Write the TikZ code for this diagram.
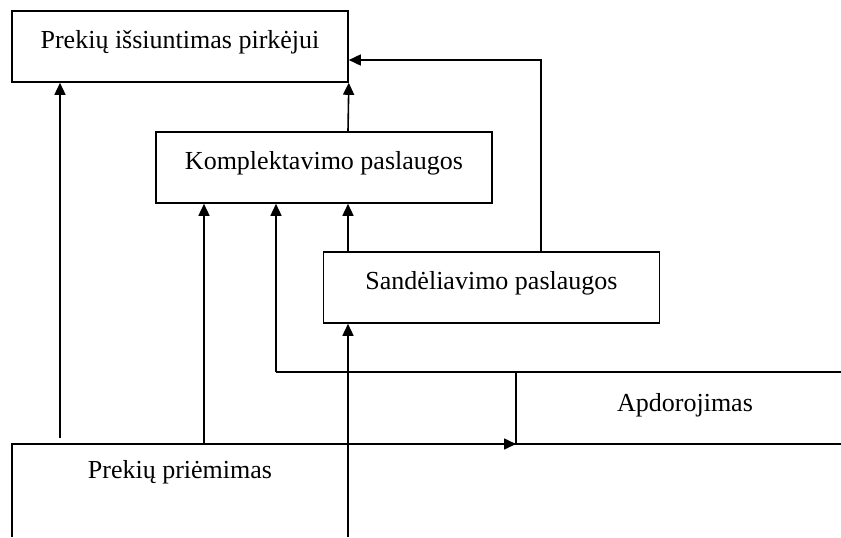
\documentclass[tikz,border=0pt]{standalone}
\usepackage{fontspec}
\setmainfont{Liberation Serif}
\usetikzlibrary{arrows.meta}
\begin{document}
\begin{tikzpicture}[x=0.5pt, y=-0.5pt, line width=0.8pt, >={Triangle[length=6pt,width=5.5pt]}]

\tikzstyle{every node} = [font=\fontsize{13}{15}\selectfont]
\tikzstyle{box} = [draw, rectangle, inner sep=0pt, minimum width=168pt, minimum height=35.5pt, text height=9pt, text depth=7pt]

\useasboundingbox (0,0) rectangle (841,537);

\node[box] (ship) at (180,46.5) {Prekių išsiuntimas pirkėjui};
\node[box] (kompl) at (324,167.5) {Komplektavimo paslaugos};
\node[box] (sand) at (491.5,287.5) {Sandėliavimo paslaugos};

\node (proc) at (685,405) {Apdorojimas};
\node (recv) at (180,472) {Prekių priėmimas};

\coordinate (r1) at (12,537);
\coordinate (r2) at (12,444);
\coordinate (r3) at (841,444);

\coordinate (p1) at (841,372);
\coordinate (p2) at (276,372);
\coordinate (p3) at (516,372);
\coordinate (p4) at (516,444);

\coordinate (a1) at (60,438);
\coordinate (a2) at (204,444);
\coordinate (a3) at (348,537);
\coordinate (a6) at (541,60);

\draw[-] (r1) -- (r2) -- (r3);
\draw[->] (r2) -- (p4);
\draw[-] (p1) -- (p2);
\draw[-] (p3) -- (p4);

\draw[->] (a1) -- (a1 |- ship.south);
\draw[->] (a2) -- (a2 |- kompl.south);
\draw[->] (p2) -- (p2 |- kompl.south);
\draw[->] (a3) -- (a3 |- sand.south);
\draw[->] (a3 |- sand.north) -- (a3 |- kompl.south);
\draw[->] (a3 |- kompl.north) -- (ship.south east);
\draw[->] (a6 |- sand.north) -- (a6) -- (a6 -| ship.east);
\end{tikzpicture}
\end{document}
